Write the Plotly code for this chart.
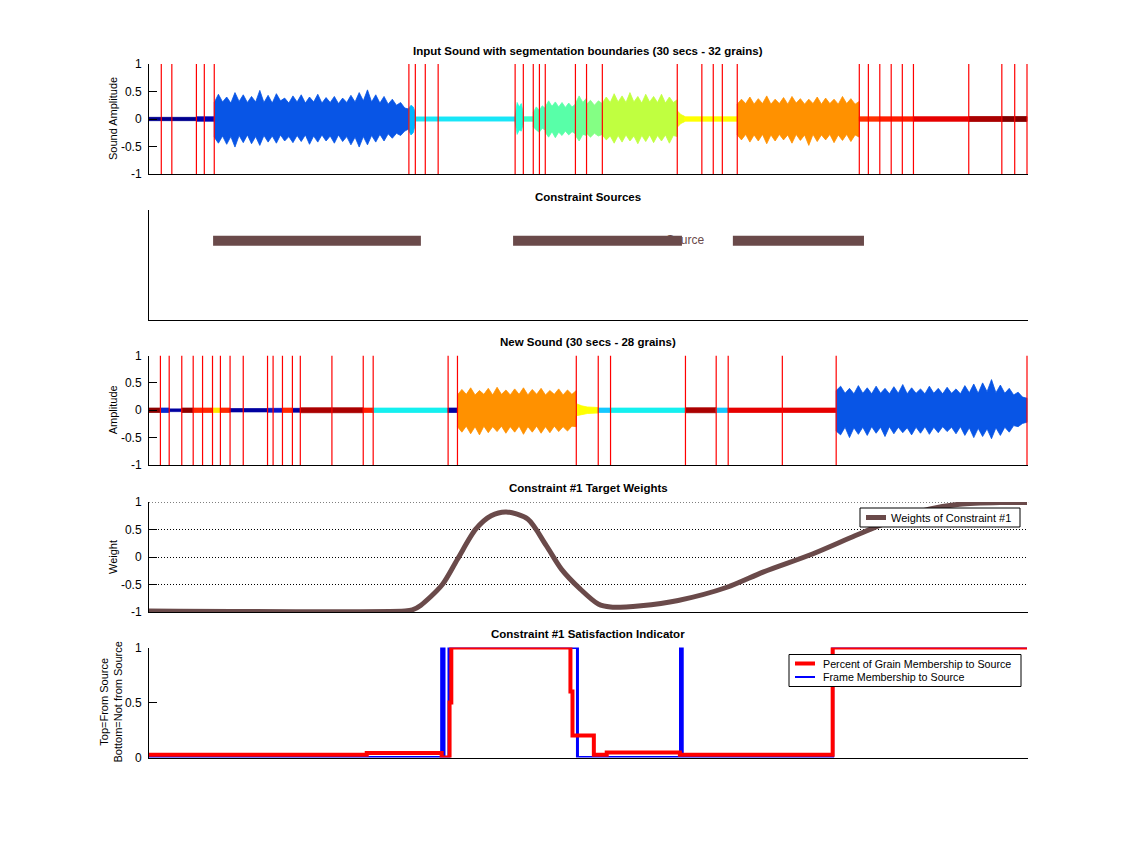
import numpy as np
import plotly.graph_objects as go

# ------------------------------------------------------------------ data
# segmentation boundaries (seconds)
in_bounds = [0.42, 0.78, 1.62, 1.89, 2.23, 8.88, 9.10, 9.44, 9.88, 12.51, 12.79,
             13.13, 13.34, 13.54, 14.57, 14.95, 15.49, 18.05, 18.89, 19.28, 19.59,
             20.10, 24.27, 24.58, 24.97, 25.36, 25.74, 26.12, 28.01, 29.14, 29.58, 30.0]
new_bounds = [0.39, 0.69, 1.12, 1.51, 1.83, 2.17, 2.44, 2.77, 3.22, 4.05, 4.24,
              4.56, 4.90, 5.17, 6.25, 7.32, 7.66, 10.22, 10.54, 14.60, 15.35,
              15.77, 18.33, 19.38, 19.79, 21.64, 23.48, 30.0]

# input sound: coloured runs (edges in s), colours, quiet amplitude
in_run_edges = [0, 1.62, 2.23, 8.88, 9.10, 12.51, 12.79, 13.13, 13.54, 14.57, 14.95,
                15.49, 18.05, 18.30, 20.10, 24.27, 24.97, 26.12, 28.01, 29.14, 30.0]
in_run_colors = ["#00008f", "#0000b0", "#0855e6", "#00b4ff", "#18e6f8", "#28ffd8",
                 "#3cffc8", "#4cffb8", "#58ffa8", "#6cff98", "#84ff84", "#c0ff40",
                 "#ecff14", "#ffff00", "#ff9100", "#ff3200", "#ff1e00", "#e60000",
                 "#aa0000", "#800000"]
in_run_amp = [0.03, 0.04, 0, 0, 0.038, 0, 0.04, 0, 0, 0, 0, 0, 0, 0.04, 0,
              0.04, 0.04, 0.042, 0.045, 0.045]

in_blue_top = [0.30, 0.45, 0.31, 0.40, 0.29, 0.48, 0.32, 0.44, 0.30, 0.41, 0.31, 0.52,
               0.30, 0.43, 0.29, 0.46, 0.33, 0.38, 0.29, 0.42, 0.31, 0.44, 0.29, 0.40,
               0.31, 0.45, 0.29, 0.39, 0.30, 0.41, 0.28, 0.38, 0.30, 0.43, 0.31, 0.48,
               0.33, 0.53, 0.31, 0.44, 0.29, 0.41, 0.27, 0.36, 0.25, 0.30, 0.20, 0.18]
in_blue_bot = [-0.33, -0.44, -0.31, -0.46, -0.32, -0.51, -0.30, -0.43, -0.29, -0.45, -0.32,
               -0.48, -0.30, -0.42, -0.31, -0.44, -0.29, -0.40, -0.32, -0.43, -0.30, -0.41,
               -0.29, -0.46, -0.31, -0.42, -0.29, -0.40, -0.31, -0.44, -0.29, -0.41, -0.32,
               -0.47, -0.33, -0.51, -0.32, -0.47, -0.30, -0.42, -0.28, -0.40, -0.27, -0.35,
               -0.26, -0.30, -0.22, -0.18]
in_lblue_top = [0.20, 0.25, 0.22, 0.12]
in_lblue_bot = [-0.22, -0.29, -0.25, -0.10]
in_aqua_top = [0.05, 0.30, 0.22, 0.28, 0.10]
in_aqua_bot = [-0.05, -0.28, -0.20, -0.22, -0.08]
in_mint1_top = [0.12, 0.22, 0.16, 0.24, 0.19]
in_mint1_bot = [-0.14, -0.20, -0.24, -0.17, -0.20]
in_mint2_top = [0.22, 0.33, 0.23, 0.31, 0.22, 0.30, 0.21, 0.29, 0.22, 0.27]
in_mint2_bot = [-0.24, -0.33, -0.23, -0.34, -0.24, -0.30, -0.22, -0.29, -0.23, -0.27]
in_green1_top = [0.28, 0.42, 0.30, 0.38]
in_green1_bot = [-0.30, -0.40, -0.28, -0.30]
in_green2_top = [0.27, 0.34, 0.25, 0.33, 0.28]
in_green2_bot = [-0.26, -0.33, -0.26, -0.31, -0.28]
in_lime_top = [0.29, 0.40, 0.30, 0.46, 0.31, 0.42, 0.30, 0.48, 0.31, 0.41, 0.29, 0.45,
               0.31, 0.41, 0.30, 0.45, 0.29, 0.40, 0.30, 0.35]
in_lime_bot = [-0.29, -0.38, -0.31, -0.44, -0.30, -0.42, -0.29, -0.40, -0.31, -0.45,
               -0.30, -0.41, -0.29, -0.43, -0.30, -0.40, -0.29, -0.44, -0.30, -0.32]
in_taper_top = [0.15, 0.08, 0.05]
in_taper_bot = [-0.15, -0.08, -0.05]
in_orange_top = [0.27, 0.36, 0.28, 0.40, 0.27, 0.37, 0.28, 0.42, 0.27, 0.36, 0.28, 0.39,
                 0.27, 0.41, 0.29, 0.37, 0.27, 0.36, 0.28, 0.40, 0.27, 0.38, 0.28, 0.36,
                 0.27, 0.41, 0.28, 0.37, 0.27, 0.32]
in_orange_bot = [-0.29, -0.38, -0.28, -0.42, -0.29, -0.40, -0.28, -0.45, -0.29, -0.40,
                 -0.28, -0.38, -0.29, -0.44, -0.28, -0.39, -0.29, -0.48, -0.28, -0.41,
                 -0.29, -0.38, -0.28, -0.43, -0.29, -0.39, -0.28, -0.41, -0.29, -0.33]
in_loud = {2: (in_blue_top, in_blue_bot), 3: (in_lblue_top, in_lblue_bot),
           5: (in_aqua_top, in_aqua_bot), 7: (in_mint1_top, in_mint1_bot),
           8: (in_mint2_top, in_mint2_bot), 9: (in_green1_top, in_green1_bot),
           10: (in_green2_top, in_green2_bot), 11: (in_lime_top, in_lime_bot),
           12: (in_taper_top, in_taper_bot), 14: (in_orange_top, in_orange_bot)}

# new sound
new_run_edges = [0, 0.39, 0.69, 1.12, 1.51, 2.17, 2.44, 2.77, 4.05, 4.56, 4.90, 5.17,
                 7.32, 7.66, 10.22, 10.54, 14.60, 15.35, 15.77, 18.33, 19.38, 19.79,
                 23.48, 30.0]
new_run_colors = ["#8c0000", "#0a28d2", "#0000a0", "#8c0000", "#ff2800", "#ffe800",
                  "#ff2800", "#0000a0", "#0a14c8", "#ff2800", "#0000a0", "#aa0000",
                  "#ff1e00", "#14f0f0", "#0000a0", "#ff9100", "#ffff00", "#14c8ff",
                  "#14f0f0", "#aa0000", "#14c8ff", "#e60000", "#0855e6"]
new_run_amp = [0.04, 0.04, 0.025, 0.04, 0.04, 0.04, 0.04, 0.03, 0.035, 0.04, 0.035,
               0.045, 0.04, 0.04, 0.04, 0, 0, 0.04, 0.04, 0.045, 0.04, 0.04, 0]
new_orange_top = [0.28, 0.38, 0.29, 0.41, 0.28, 0.36, 0.29, 0.40, 0.28, 0.42, 0.29, 0.37,
                  0.28, 0.39, 0.29, 0.41, 0.28, 0.38, 0.29, 0.40, 0.28, 0.36, 0.29, 0.39,
                  0.28, 0.37, 0.29, 0.36]
new_orange_bot = [-0.30, -0.40, -0.29, -0.43, -0.30, -0.45, -0.29, -0.41, -0.30, -0.39,
                  -0.29, -0.42, -0.30, -0.40, -0.29, -0.44, -0.30, -0.40, -0.29, -0.42,
                  -0.30, -0.41, -0.29, -0.39, -0.30, -0.38, -0.29, -0.30]
new_yellow_top = [0.12, 0.08, 0.06, 0.05, 0.05]
new_yellow_bot = [-0.10, -0.08, -0.06, -0.05, -0.05]
new_blue_top = [0.36, 0.44, 0.31, 0.40, 0.30, 0.45, 0.31, 0.41, 0.30, 0.44, 0.31, 0.40,
                0.30, 0.43, 0.31, 0.47, 0.30, 0.41, 0.31, 0.39, 0.30, 0.44, 0.31, 0.40,
                0.30, 0.42, 0.31, 0.39, 0.30, 0.45, 0.32, 0.48, 0.31, 0.50, 0.34, 0.56,
                0.32, 0.46, 0.31, 0.40, 0.28, 0.33, 0.24, 0.22]
new_blue_bot = [-0.38, -0.45, -0.31, -0.50, -0.32, -0.44, -0.31, -0.46, -0.30, -0.42,
                -0.31, -0.48, -0.30, -0.43, -0.31, -0.41, -0.32, -0.45, -0.31, -0.42,
                -0.30, -0.44, -0.31, -0.41, -0.30, -0.39, -0.31, -0.43, -0.30, -0.46,
                -0.32, -0.50, -0.33, -0.48, -0.34, -0.52, -0.32, -0.46, -0.31, -0.40,
                -0.28, -0.30, -0.24, -0.22]
new_loud = {15: (new_orange_top, new_orange_bot), 16: (new_yellow_top, new_yellow_bot),
            22: (new_blue_top, new_blue_bot)}

# constraint sources (start, end in s)
src_start = [2.19, 12.44, 19.95]
src_end = [9.29, 18.21, 24.43]
src_level = 0.72

# constraint #1 target weights
w_t = [0, 8.75, 9.0, 9.28, 10.01, 10.54, 11.17, 11.69, 12.21, 12.94, 13.57, 14.09,
       14.73, 15.35, 15.77, 16.81, 18.08, 19.75, 21.0, 22.67, 24.14, 25.39, 26.65,
       27.7, 29.08, 30]
w_v = [-0.98, -0.98, -0.96, -0.88, -0.51, -0.04, 0.51, 0.75, 0.82, 0.69, 0.21, -0.22,
       -0.58, -0.855, -0.91, -0.885, -0.79, -0.55, -0.27, 0.055, 0.39, 0.66, 0.87,
       0.96, 0.99, 0.99]

# satisfaction indicator
pct_t = [0, 7.44, 7.44, 10.0, 10.0, 10.27, 10.27, 10.33, 10.33, 14.40, 14.40, 14.47,
         14.47, 15.20, 15.20, 15.64, 15.64, 18.14, 18.14, 23.36, 23.36, 30]
pct_v = [0.025, 0.025, 0.04, 0.04, 0.0, 0.0, 0.5, 0.5, 1, 1, 0.6, 0.6,
         0.2, 0.2, 0.025, 0.025, 0.045, 0.045, 0.025, 0.025, 1, 1]
frm_t = [0, 10.0, 10.0, 10.08, 10.08, 10.25, 10.25, 14.64, 14.64, 18.16, 18.16,
         18.22, 18.22, 23.36, 23.36, 30]
frm_v = [0, 0, 1, 1, 0, 0, 1, 1, 0, 0, 1, 1, 0, 0, 1, 1]

titles = ["Input Sound with segmentation boundaries (30 secs - 32 grains)",
          "Constraint Sources",
          "New Sound (30 secs - 28 grains)",
          "Constraint #1 Target Weights",
          "Constraint #1 Satisfaction Indicator"]
w_name = "Weights of Constraint #1"
pct_name = "Percent of Grain Membership to Source"
frm_name = "Frame Membership to Source"

# ------------------------------------------------------------------ layout consts
W, H = 1135, 851
OFF = -8                       # page body margin compensation (px)
XL, X30 = 149, 1027
T_MAX = 30.04
XR = XL + (X30 - XL) * T_MAX / 30.0
PANELS = [(64, 174), (210, 320), (355.5, 465), (502, 612), (647.5, 757.5)]
TITLE_Y = [51, 197, 342, 488, 634]
FONT = "Liberation Sans, Arial, Helvetica, sans-serif"
BROWN = "#6a4a4a"


def xp(px):
    return (px + OFF) / W


def yp(py):
    return 1 - (py + OFF) / H


fig = go.Figure()


def add_runs(edges, colors, amps, loud, xa, ya):
    for i, c in enumerate(colors):
        a, b = edges[i], edges[i + 1]
        if i in loud:
            top, bot = loud[i]
        else:
            top, bot = [amps[i], amps[i]], [-amps[i], -amps[i]]
        xt = np.linspace(a, b, len(top))
        xb = np.linspace(a, b, len(bot))
        xs = list(xt) + list(xb[::-1]) + [xt[0]]
        ys = list(top) + list(bot[::-1]) + [top[0]]
        fig.add_trace(go.Scatter(x=xs, y=ys, mode="lines", fill="toself", fillcolor=c,
                                 line=dict(color=c, width=0.8), hoverinfo="skip",
                                 showlegend=False, xaxis=xa, yaxis=ya))


def add_bounds(bounds, xa, ya):
    xs, ys = [], []
    for b in bounds:
        xs += [b, b, None]
        ys += [-1, 1, None]
    fig.add_trace(go.Scatter(x=xs, y=ys, mode="lines", line=dict(color="#ff0000", width=1.2),
                             hoverinfo="skip", showlegend=False, xaxis=xa, yaxis=ya))


# panel 1
add_runs(in_run_edges, in_run_colors, in_run_amp, in_loud, "x", "y")
add_bounds(in_bounds, "x", "y")

# panel 2: label on the base subplot, source bars on an overlaying subplot (on top)
fig.add_trace(go.Scatter(x=[18.97], y=[src_level], mode="text", text=["Source"],
                         textposition="middle left",
                         textfont=dict(family=FONT, size=12, color=BROWN),
                         showlegend=False, hoverinfo="skip", xaxis="x2", yaxis="y2"))
bx, by = [], []
for s, e in zip(src_start, src_end):
    bx += [s, e, None]
    by += [src_level, src_level, None]
fig.add_trace(go.Scatter(x=bx, y=by, mode="lines", line=dict(color=BROWN, width=10),
                         showlegend=False, hoverinfo="skip", xaxis="x6", yaxis="y6"))

# panel 3
add_runs(new_run_edges, new_run_colors, new_run_amp, new_loud, "x3", "y3")
add_bounds(new_bounds, "x3", "y3")

# panel 4
fig.add_trace(go.Scatter(x=w_t, y=w_v, mode="lines", name=w_name, showlegend=False,
                         line=dict(color=BROWN, width=5, shape="spline", smoothing=0.8),
                         xaxis="x4", yaxis="y4"))

# panel 5
fig.add_trace(go.Scatter(x=frm_t, y=frm_v, mode="lines", name=frm_name, showlegend=False,
                         line=dict(color="#0000ff", width=3), xaxis="x5", yaxis="y5"))
fig.add_trace(go.Scatter(x=pct_t, y=pct_v, mode="lines", name=pct_name, showlegend=False,
                         line=dict(color="#ff0000", width=4), xaxis="x5", yaxis="y5"))

# ------------------------------------------------------------------ axes
layout = dict(width=W, height=H, margin=dict(l=0, r=0, t=0, b=0, autoexpand=False),
              autosize=False, showlegend=False,
              paper_bgcolor="white", plot_bgcolor="white",
              font=dict(family=FONT, size=12, color="black"))

yranges = [[-1, 1], [0, 1], [-1, 1], [-1, 1], [0, 1]]
yticks = [[-1, -0.5, 0, 0.5, 1], [], [-1, -0.5, 0, 0.5, 1], [-1, -0.5, 0, 0.5, 1], [0, 0.5, 1]]
for k in range(5):
    sx = "" if k == 0 else str(k + 1)
    top, bot = PANELS[k]
    layout["xaxis" + sx] = dict(domain=[xp(XL), xp(XR)], range=[0, T_MAX],
                                anchor="y" + sx, showline=True, linecolor="black",
                                linewidth=1, ticks="", showticklabels=False,
                                showgrid=False, zeroline=False, fixedrange=True)
    ya = dict(domain=[yp(bot), yp(top)], range=yranges[k], anchor="x" + sx,
              showline=True, linecolor="black", linewidth=1, zeroline=False,
              showgrid=False, fixedrange=True,
              tickfont=dict(family=FONT, size=12, color="black"))
    if yticks[k]:
        ya.update(tickvals=yticks[k], ticktext=[("%g" % v) for v in yticks[k]],
                  ticks="inside", ticklen=8, tickcolor="black", tickwidth=1,
                  ticklabelstandoff=4)
    else:
        ya.update(ticks="", showticklabels=False)
    if k == 3:
        ya.update(showgrid=True, gridcolor="black", gridwidth=1, griddash="1px,2px")
    layout["yaxis" + sx] = ya

layout["xaxis6"] = dict(overlaying="x2", range=[0, T_MAX], anchor="y6", visible=False,
                        fixedrange=True)
layout["yaxis6"] = dict(overlaying="y2", range=[0, 1], anchor="x6", visible=False,
                        fixedrange=True)

shapes = []
# dotted grid line at the top of the weights panel
shapes.append(dict(type="line", xref="x4 domain", yref="y4", x0=0, x1=1, y0=1, y1=1,
                   line=dict(color="black", width=1, dash="1px,2px"), layer="below"))

# manual legends (MATLAB-style compact boxes)
ann = []
shapes.append(dict(type="rect", xref="paper", yref="paper", x0=xp(860), x1=xp(1020),
                   y0=yp(527), y1=yp(508), line=dict(color="black", width=1),
                   fillcolor="white", layer="above"))
shapes.append(dict(type="line", xref="paper", yref="paper", x0=xp(866), x1=xp(886),
                   y0=yp(517.5), y1=yp(517.5), line=dict(color=BROWN, width=5),
                   layer="above"))
ann.append(dict(text=w_name, x=xp(889), y=yp(517.5), xref="paper", yref="paper",
                xanchor="left", yanchor="middle", showarrow=False,
                font=dict(family=FONT, size=11, color="black")))
shapes.append(dict(type="rect", xref="paper", yref="paper", x0=xp(789), x1=xp(1021),
                   y0=yp(686.5), y1=yp(654.5), line=dict(color="black", width=1),
                   fillcolor="white", layer="above"))
shapes.append(dict(type="line", xref="paper", yref="paper", x0=xp(795), x1=xp(815),
                   y0=yp(663.5), y1=yp(663.5), line=dict(color="#ff0000", width=4),
                   layer="above"))
shapes.append(dict(type="line", xref="paper", yref="paper", x0=xp(795), x1=xp(815),
                   y0=yp(677), y1=yp(677), line=dict(color="#0000ff", width=2),
                   layer="above"))
for txt, ypx in [(pct_name, 663.5), (frm_name, 677)]:
    ann.append(dict(text=txt, x=xp(821), y=yp(ypx), xref="paper", yref="paper",
                    xanchor="left", yanchor="middle", showarrow=False,
                    font=dict(family=FONT, size=10.7, color="black")))

cx = xp((XL + X30) / 2)
for t, ypx in zip(titles, TITLE_Y):
    ann.append(dict(text="<b>" + t + "</b>", x=cx, y=yp(ypx), xref="paper",
                    yref="paper", xanchor="center", yanchor="middle", showarrow=False,
                    font=dict(family=FONT, size=11.5, color="black")))
ylabels = [("Sound Amplitude", 0), ("Amplitude", 2), ("Weight", 3),
           ("Top=From Source<br>Bottom=Not from Source", 4)]
for txt, k in ylabels:
    top, bot = PANELS[k]
    ann.append(dict(text=txt, x=xp(110 if k == 4 else 113), y=yp((top + bot) / 2),
                    xref="paper", yref="paper", xanchor="center", yanchor="middle",
                    textangle=-90, showarrow=False,
                    font=dict(family=FONT, size=11, color="black")))
layout["annotations"] = ann
layout["shapes"] = shapes

fig.update_layout(**layout)
fig.write_html("out.html")
